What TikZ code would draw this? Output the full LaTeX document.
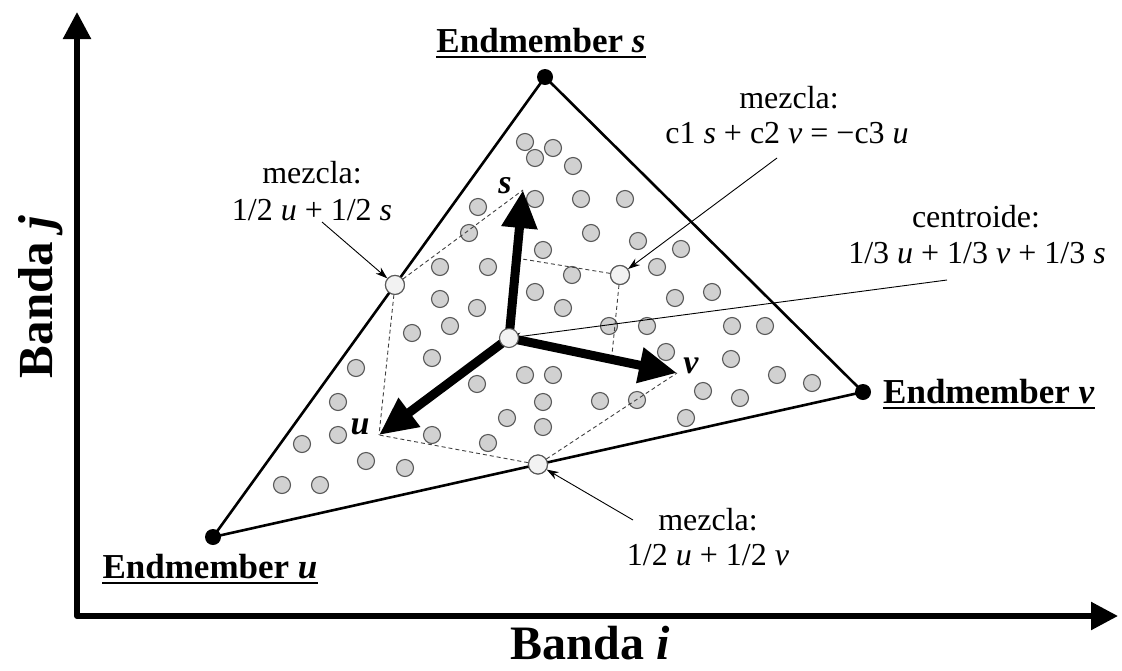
\documentclass[tikz,border=0pt]{standalone}
\usepackage{fontspec}
\setmainfont{Liberation Serif}
\usetikzlibrary{arrows.meta,calc}
\begin{document}
\begin{tikzpicture}[x=1pt,y=-1pt,
  axis/.style={line width=5.5pt,-{Triangle[length=27pt,width=27pt]}},
  vec/.style={line width=9pt,-{Triangle[length=38pt,width=34pt]}},
  guide/.style={draw=black!75,line width=0.9pt,dash pattern=on 4pt off 3pt},
  pointer/.style={line width=0.9pt,-{Stealth[length=12pt,width=8pt]}},
  pixel/.style={draw=black!65,fill=black!18,line width=1.1pt},
  mixpt/.style={circle,draw=black!65,fill=black!5,line width=1.1pt,minimum size=19pt,inner sep=0},
  lbl/.style={font=\fontsize{32}{36}\selectfont,inner sep=0},
  emlbl/.style={font=\fontsize{35}{40}\selectfont\bfseries,inner sep=0},
  vlbl/.style={font=\fontsize{34}{38}\selectfont\bfseries\itshape,inner sep=0}]
\useasboundingbox (0,0) rectangle (1122,670);
% endmembers and centroid
\coordinate (U) at (213,537);
\coordinate (V) at (863,392);
\coordinate (S) at (545,77);
\coordinate (C) at (509,338);
\coordinate (Utip) at (379,435);
\coordinate (Vtip) at (677,373);
\coordinate (Stip) at (523,190);
% pixels
\foreach \x/\y in {525/142,553/148,535/158,573/166,535/199,581/199,625/199,478/207,
  469/233,591/233,638/241,543/250,681/249,440/267,488/267,572/275,657/267,535/292,
  675/298,712/292,440/299,477/308,563/308,412/333,450/326,609/326,647/326,732/326,
  765/326,432/358,666/352,731/359,525/375,553/375,477/384,777/375,812/383,703/391,
  740/398,637/400,686/418,600/401,356/368,338/402,543/402,507/418,432/435,338/435,
  302/444,543/427,488/443,366/461,405/468,282/485,320/485}
  \draw[pixel] (\x,\y) circle[radius=8.5pt];
% mixtures
\node[mixpt] (Mus) at ($(U)!0.548!(S)$) {};
\node[mixpt] (Muv) at ($(U)!0.5!(V)$) {};
\node[mixpt] (Msv) at (620,275) {};
% construction lines
\draw[guide] (Mus) -- (Stip);
\draw[guide] (Mus) -- (Utip);
\draw[guide] (Msv) -- ($(C)!0.54!(Stip)$);
\draw[guide] (Msv) -- ($(C)!0.61!(Vtip)$);
\draw[guide] (Muv) -- (Utip);
\draw[guide] (Muv) -- (Vtip);
% simplex
\draw[line width=2.6pt,line join=round] (U) -- (S) -- (V) -- cycle;
\foreach \p in {U,V,S} \fill (\p) circle[radius=8pt];
% axes
\coordinate (O) at (77,616);
\draw[axis] (O) -- (77,12);
\draw[axis] (O) -- (1118,616);
\fill (O) circle[radius=3pt];
% label pointers
\coordinate (aus) at (322,222);
\coordinate (asv) at (777,158);
\coordinate (acn) at (947,280);
\coordinate (auv) at (633,520);
\draw[pointer] (aus) -- (Mus);
\draw[pointer] (asv) -- (Msv);
\draw[pointer] (acn) -- (C);
\draw[pointer] (auv) -- (Muv);
% endmember vectors
\draw[vec] (C) -- (Stip);
\draw[vec] (C) -- (Vtip);
\draw[vec] (C) -- (Utip);
\foreach \n in {Mus,Muv,Msv} \node[mixpt] at (\n) {};
\node[mixpt] (cen) at (C) {};
\node[vlbl] (ls) at (505,186) {s};
\node[vlbl] (lv) at (691,366) {v};
\node[vlbl] (lu) at (360,427) {u};
% texts
\node[emlbl,anchor=base] (EMs) at (541,52) {Endmember \textit{s}};
\node[emlbl,anchor=base west] (EMv) at (883,403) {Endmember \textit{v}};
\node[emlbl,anchor=base] (EMu) at (210,578) {Endmember \textit{u}};
\foreach \n in {EMs,EMv,EMu}
  \draw[line width=2.4pt] ([yshift=-5pt]\n.base west) -- ([yshift=-5pt]\n.base east);
\node[lbl,anchor=base] (musA) at (312,183) {mezcla:};
\node[lbl,anchor=base] (musB) at (312,220) {1/2 \textit{u} + 1/2 \textit{s}};
\node[lbl,anchor=base] (msvA) at (789,108) {mezcla:};
\node[lbl,anchor=base] (msvB) at (787,143) {c1 \textit{s} + c2 \textit{v} = −c3 \textit{u}};
\node[lbl,anchor=base] (cenA) at (976,227) {centroide:};
\node[lbl,anchor=base] (cenB) at (977,263) {1/3 \textit{u} + 1/3 \textit{v} + 1/3 \textit{s}};
\node[lbl,anchor=base] (muvA) at (708,530) {mezcla:};
\node[lbl,anchor=base] (muvB) at (708,565) {1/2 \textit{u} + 1/2 \textit{v}};
\node[font=\fontsize{49}{54}\selectfont\bfseries,rotate=90,anchor=base,inner sep=0] (bj) at (52,297) {Banda \textit{j}};
\node[font=\fontsize{48}{54}\selectfont\bfseries,anchor=base,inner sep=0] (bi) at (590,659) {Banda \textit{i}};
\end{tikzpicture}
\end{document}
